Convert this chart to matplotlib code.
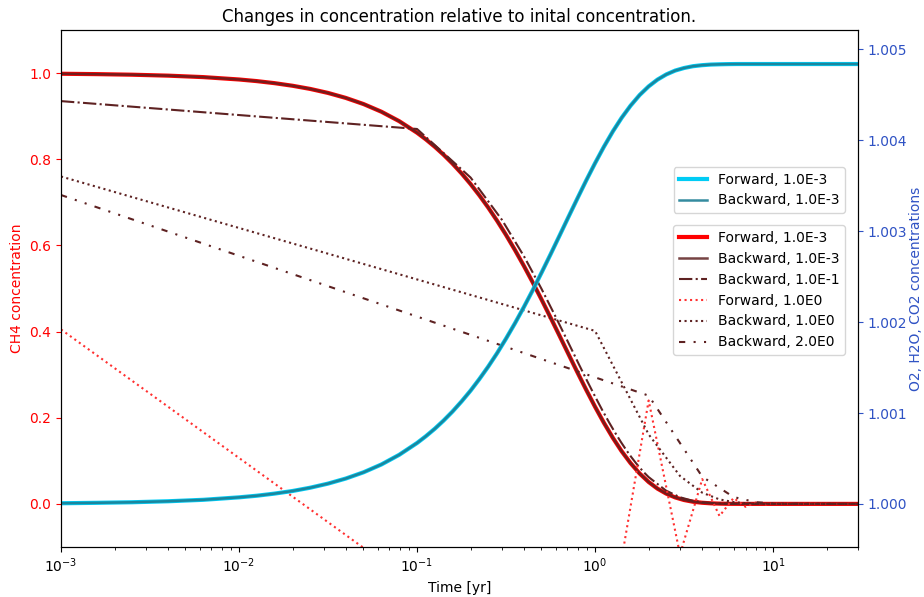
import matplotlib
matplotlib.use('Agg')
import matplotlib.pyplot as plt
from matplotlib.ticker import FormatStrFormatter

# fine-step runs (dt = 1e-3), sampled on a log grid
t_fine = [0.001, 0.0016, 0.0025, 0.004, 0.0063,
          0.01, 0.0126, 0.0158, 0.02, 0.0251, 0.0316, 0.0398, 0.0501, 0.0631,
          0.0794,
          0.1, 0.112, 0.126, 0.141, 0.158, 0.178, 0.2, 0.224, 0.251, 0.282,
          0.316, 0.355, 0.398, 0.447, 0.501, 0.562, 0.631, 0.708, 0.794, 0.891,
          1.0, 1.12, 1.26, 1.41, 1.58, 1.78, 2.0, 2.24, 2.51, 2.82, 3.16, 3.55,
          3.98, 4.47, 5.01, 5.62, 6.31, 7.08, 7.94,
          10.0, 30.0]
ch4_fwd_1em3 = [0.9985, 0.9976, 0.9963, 0.9941, 0.9907,
                0.9852, 0.9814, 0.9767, 0.9706, 0.9633, 0.9540, 0.9424, 0.9281,
                0.9103, 0.8884,
                0.8616, 0.8463, 0.8288, 0.8105, 0.7902, 0.7670, 0.7423, 0.7162,
                0.6880, 0.6569, 0.6245, 0.5892, 0.5527, 0.5138, 0.4740, 0.4328,
                0.3906, 0.3482, 0.3063, 0.2651,
                0.2254, 0.1885, 0.1530, 0.1223, 0.0950, 0.0705, 0.0508, 0.0355,
                0.0238, 0.0150, 0.0090, 0.0050, 0.0027, 0.0013, 0.0006, 0.0002,
                0.0001, 0.0, 0.0,
                0.0, 0.0]
# backward run with the same step lies on top of the forward one
ch4_bwd_1em3 = ch4_fwd_1em3
o2_fwd_1em3 = [1.000007, 1.000012, 1.000018, 1.000029, 1.000045,
               1.000072, 1.000090, 1.000113, 1.000142, 1.000178, 1.000223,
               1.000279, 1.000348, 1.000434, 1.000540,
               1.000670, 1.000744, 1.000828, 1.000917, 1.001015, 1.001128,
               1.001247, 1.001374, 1.001510, 1.001660, 1.001818, 1.001988,
               1.002165, 1.002353, 1.002546, 1.002745, 1.002950, 1.003155,
               1.003357, 1.003557,
               1.003749, 1.003928, 1.004100, 1.004248, 1.004380, 1.004499,
               1.004594, 1.004668, 1.004725, 1.004768, 1.004796, 1.004816,
               1.004827, 1.004834, 1.004837, 1.004839, 1.004840, 1.004840,
               1.004840,
               1.004840, 1.004840]
o2_bwd_1em3 = o2_fwd_1em3

# backward, dt = 0.1
t_bwd_1em1 = [0.001, 0.1, 0.2, 0.3, 0.4, 0.5, 0.6, 0.7, 0.8, 0.9, 1.0, 1.1,
              1.2, 1.3, 1.4, 1.5, 1.6, 1.7, 1.8, 1.9, 2.0, 2.5, 3.0, 3.5, 4.0,
              5.0, 6.0, 10.0, 30.0]
ch4_bwd_1em1 = [0.935, 0.8703, 0.7575, 0.6593, 0.5738, 0.4994, 0.4346, 0.3783,
                0.3292, 0.2865, 0.2494, 0.2170, 0.1889, 0.1644, 0.1431, 0.1245,
                0.1084, 0.0943, 0.0821, 0.0714, 0.0622, 0.0310, 0.0154, 0.0077,
                0.0038, 0.0010, 0.0002, 0.0, 0.0]

# dt = 1
t_dt1 = [0.001, 1, 2, 3, 4, 5, 6, 7, 8, 9, 10, 11, 12, 30]
ch4_fwd_1e0 = [0.405, -0.490, 0.2401, -0.1176, 0.0576, -0.0282, 0.0138,
               -0.0068, 0.0033, -0.0016, 0.0008, -0.0004, 0.0002, 0.0]
ch4_bwd_1e0 = [0.760, 0.4016, 0.1613, 0.0648, 0.0260, 0.0104, 0.0042, 0.0017,
               0.0007, 0.0003, 0.0001, 0.0, 0.0, 0.0]

# backward, dt = 2
t_dt2 = [0.001, 2, 4, 6, 8, 10, 12, 14, 30]
ch4_bwd_2e0 = [0.717, 0.2513, 0.0631, 0.0159, 0.0040, 0.0010, 0.0003, 0.0001,
               0.0]

red = 'red'
brown = '#5e2222'
blue_txt = '#2f52c4'

fig, ax1 = plt.subplots(figsize=(9.24, 5.97), dpi=100)
fig.subplots_adjust(left=0.066, right=0.9286, top=0.9497, bottom=0.0838)

ax1.plot(t_fine, ch4_fwd_1em3, color=red, lw=3, label='Forward, 1.0E-3')
ax1.plot(t_fine, ch4_bwd_1em3, color=brown, lw=1.8, alpha=0.85,
         label='Backward, 1.0E-3')
ax1.plot(t_bwd_1em1, ch4_bwd_1em1, color=brown, lw=1.5, ls='-.',
         label='Backward, 1.0E-1')
ax1.plot(t_dt1, ch4_fwd_1e0, color='#ff3030', lw=1.5, ls=':',
         label='Forward, 1.0E0')
ax1.plot(t_dt1, ch4_bwd_1e0, color=brown, lw=1.5, ls=':',
         label='Backward, 1.0E0')
ax1.plot(t_dt2, ch4_bwd_2e0, color=brown, lw=1.5,
         ls=(0, (3, 4, 1, 4, 1, 4)), label='Backward, 2.0E0')

ax1.set_xscale('log')
ax1.set_xlim(1e-3, 30)
ax1.set_ylim(-0.1, 1.1)
ax1.set_yticks([0.0, 0.2, 0.4, 0.6, 0.8, 1.0])
ax1.set_xlabel('Time [yr]')
ax1.set_ylabel('CH4 concentration', color=red)
ax1.tick_params(axis='y', colors=red)
ax1.set_title('Changes in concentration relative to inital concentration.')

ax2 = ax1.twinx()
ax2.plot(t_fine, o2_fwd_1em3, color='#00ccf5', lw=3, label='Forward, 1.0E-3')
ax2.plot(t_fine, o2_bwd_1em3, color='#1f7f95', lw=1.8, alpha=0.9,
         label='Backward, 1.0E-3')
ax2.set_ylim(0.999526, 1.005214)
ax2.set_yticks([1.000, 1.001, 1.002, 1.003, 1.004, 1.005])
ax2.yaxis.set_major_formatter(FormatStrFormatter('%.3f'))
ax2.set_ylabel('O2, H2O, CO2 concentrations', color=blue_txt, labelpad=1)
ax2.tick_params(axis='y', colors=blue_txt)

ax1.legend(loc='upper right', bbox_to_anchor=(0.9925, 0.636))
ax2.legend(loc='upper right', bbox_to_anchor=(0.9925, 0.7485))

fig.savefig('out.png', dpi=100)
